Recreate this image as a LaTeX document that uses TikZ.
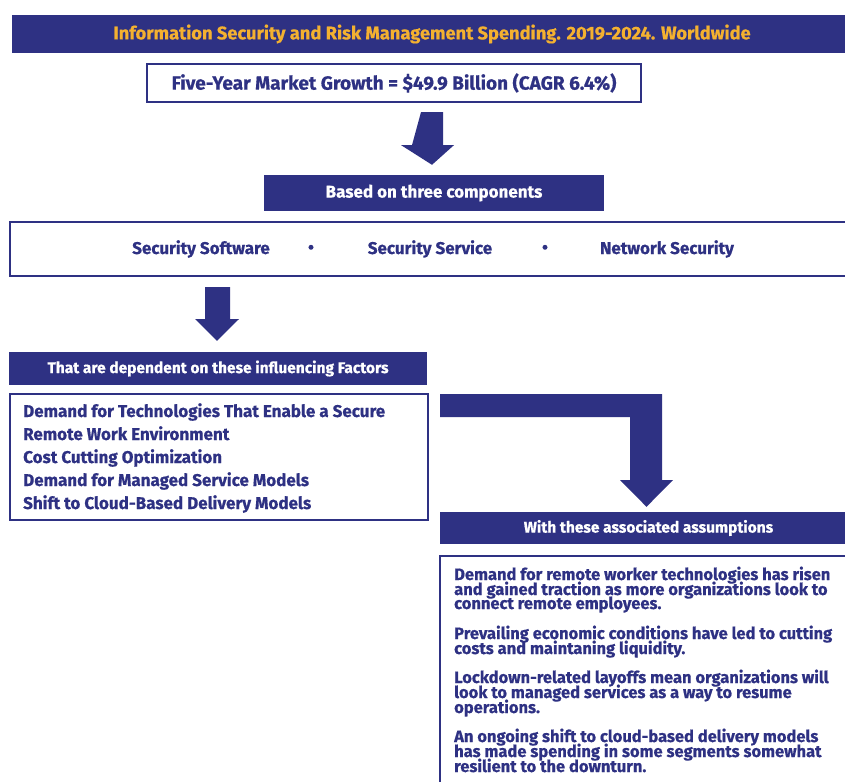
\documentclass[tikz,border=0pt]{standalone}
\usepackage{fontspec}
\setmainfont{Fira Sans}[BoldFeatures={FakeBold=0.6}]
\usetikzlibrary{calc}
\definecolor{navy}{HTML}{2E3183}
\definecolor{gold}{HTML}{F4B130}
\tikzset{
  barbox/.style={fill=navy, text=white, inner sep=0pt, font=\bfseries\fontsize{16}{18}\selectfont},
  linebox/.style={draw=navy, line width=2.2pt},
  bluetext/.style={text=navy, inner sep=0pt, font=\bfseries\fontsize{17}{19}\selectfont},
  listline/.style={bluetext, anchor=base west},
  noteline/.style={bluetext, anchor=base west, font=\bfseries\fontsize{16.5}{15}\selectfont},
  blockarrow/.style={fill=navy}
}
\begin{document}
\begin{tikzpicture}[x=1pt,y=-1pt]
\useasboundingbox (0,0) rectangle (845,781);

% heading bar
\node[barbox, minimum width=840pt, minimum height=38pt, text=gold,
      font=\bfseries\fontsize{18.3}{20}\selectfont] (title) at (432,34)
  {Information Security and Risk Management Spending. 2019-2024. Worldwide};

% market growth
\node[linebox, bluetext, minimum width=494pt, minimum height=38pt,
      font=\bfseries\fontsize{19}{21}\selectfont] (growth) at (394,83)
  {Five-Year Market Growth = \$49.9 Billion (CAGR 6.4\%)};

% components
\node[barbox, minimum width=340pt, minimum height=36pt,
      font=\bfseries\fontsize{17}{19}\selectfont] (based) at (434,193)
  {Based on three components};
\draw[linebox] (10,222) rectangle (870,276);
\node[bluetext] (sw)  at (201,249) {Security Software};
\node[bluetext] (b1)  at (311,249) {\textbullet};
\node[bluetext] (ss)  at (430,249) {Security Service};
\node[bluetext] (b2)  at (545,249) {\textbullet};
\node[bluetext] (ns)  at (667,249) {Network Security};

% influencing factors
\node[barbox, minimum width=418pt, minimum height=33pt,
      font=\bfseries\fontsize{15.5}{17}\selectfont] (dep) at (218,368.5)
  {That are dependent on these influencing Factors};
\draw[linebox] (10,394) rectangle (428,520);
\foreach \rowy/\rowtext [count=\i] in {
  417/{Demand for Technologies That Enable a Secure},
  440/{Remote Work Environment},
  463/{Cost Cutting Optimization},
  486/{Demand for Managed Service Models},
  509/{Shift to Cloud-Based Delivery Models}}
  \node[listline] (f\i) at (23,\rowy) {\rowtext};

% assumptions
\node[barbox, minimum width=417pt, minimum height=32pt,
      font=\bfseries\fontsize{15.5}{17}\selectfont] (with) at (648.5,528)
  {With these associated assumptions};
\draw[linebox] (440,556) rectangle (870,800);
\foreach \rowy/\rowtext [count=\i] in {
  580/{Demand for remote worker technologies has risen},
  595/{and gained traction as more organizations look to},
  609/{connect remote employees.},
  639/{Prevailing economic conditions have led to cutting},
  654/{costs and maintaning liquidity.},
  683/{Lockdown-related layoffs mean organizations will},
  698/{look to managed services as a way to resume},
  713/{operations.},
  742/{An ongoing shift to cloud-based delivery models},
  757/{has made spending in some segments somewhat},
  772/{resilient to the downturn.}}
  \node[noteline] (a\i) at (454,\rowy) {\rowtext};

% block arrows
\fill[blockarrow] ($(growth.south)+(27,9)$) coordinate (a1top)
  -- ++(22,0) -- ++(0,33) -- ++(11,0) -- ($(based.north)+(-2,-10)$) coordinate (a1tip)
  -- ($(a1top)+(-20,33)$) -- ++(11,0) -- cycle;
\fill[blockarrow] (205,287) -- (230,287) -- (230,319) -- (239,319)
  -- ($(dep.north)+(-1,-11)$) coordinate (a2tip) -- (195,319) -- (205,319) -- cycle;
\fill[blockarrow] (440,394) -- (662,394) -- (662,480) -- (673,480)
  -- ($(with.north)+(-2,-5)$) coordinate (a3tip) -- (620,480) -- (630,480)
  -- (630,417) -- (440,417) -- cycle;
\end{tikzpicture}
\end{document}
